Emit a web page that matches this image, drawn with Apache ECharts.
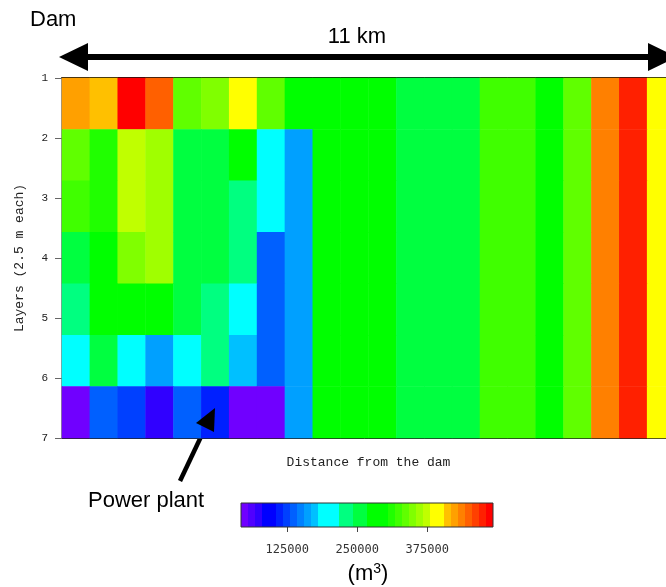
<!DOCTYPE html>
<html>
<head>
<meta charset="utf-8">
<script src="https://cdn.jsdelivr.net/npm/echarts@6/dist/echarts.min.js"></script>
<style>
  html, body { margin: 0; padding: 0; background: #fff; }
  #chart { width: 666px; height: 587px; }
</style>
</head>
<body>
<div id="chart"></div>
<script>
// Reservoir segments counted from the dam, and the 7 depth layers
const segments = ['1','2','3','4','5','6','7','8','9','10','11','12','13','14','15','16','17','18','19','20','21','22'];
const layers = ['1','2','3','4','5','6','7'];
const layerTicks = [1, 7];

// Water volume per cell (m³), one array per layer from the surface down
const layer1 = [421000, 409000, 488000, 446000, 334000, 351000, 385000, 337000, 290000, 284000, 287000, 289000, 247000, 250000, 252000, 321000, 326000, 281000, 338000, 433000, 470000, 389000];
const layer2 = [333000, 309000, 372000, 362000, 248000, 246000, 285000, 198000, 160000, 284000, 287000, 289000, 247000, 250000, 252000, 321000, 326000, 281000, 338000, 433000, 470000, 389000];
const layer3 = [322000, 312000, 375000, 359000, 251000, 247000, 223000, 201000, 162000, 284000, 287000, 289000, 247000, 250000, 252000, 321000, 326000, 281000, 338000, 433000, 470000, 389000];
const layer4 = [253000, 283000, 345000, 364000, 249000, 245000, 226000, 137000, 161000, 284000, 287000, 289000, 247000, 250000, 252000, 321000, 326000, 281000, 338000, 433000, 470000, 389000];
const layer5 = [221000, 288000, 282000, 286000, 250000, 228000, 196000, 134000, 163000, 284000, 287000, 289000, 247000, 250000, 252000, 321000, 326000, 281000, 338000, 433000, 470000, 389000];
const layer6 = [203000, 244000, 199000, 158000, 195000, 220000, 171000, 139000, 160000, 284000, 287000, 289000, 247000, 250000, 252000, 321000, 326000, 281000, 338000, 433000, 470000, 389000];
const layer7 = [47000, 136000, 121000, 73000, 133000, 108000, 52000, 50000, 164000, 284000, 287000, 289000, 247000, 250000, 252000, 321000, 326000, 281000, 338000, 433000, 470000, 389000];

// Colour scale: 36 classes of 12 500 m³
const classStart = 42500;
const classStep = 12500;
const classColors = ['#7000ff','#5000ff','#3000ff','#0000ff','#0000ff','#0020ff','#0040ff','#0060ff','#0080ff','#00a0ff','#00c0ff','#00ffff','#00ffff','#00ffff','#00ff80','#00ff80','#00ff40','#00ff40','#00ff00','#00ff00','#00ff00','#20ff00','#40ff00','#60ff00','#80ff00','#a0ff00','#c0ff00','#ffff00','#ffff00','#ffc000','#ffa000','#ff8000','#ff6000','#ff4000','#ff2000','#ff0000'];
const colorTicks = [125000, 250000, 375000];

const layerValues = [layer1, layer2, layer3, layer4, layer5, layer6, layer7];
const cells = [];
layerValues.forEach((row, r) => row.forEach((v, c) => cells.push([c, r, v])));

const pieces = classColors.map((color, i) => ({
  gte: classStart + i * classStep,
  lt: classStart + (i + 1) * classStep,
  color: color
}));
const classEnd = classStart + classColors.length * classStep;

const mono = 'Liberation Mono';
const sans = 'Liberation Sans';

const chart = echarts.init(document.getElementById('chart'), null, { renderer: 'canvas' });

chart.setOption({
  animation: false,
  backgroundColor: '#fff',
  grid: [
    { left: 62, top: 78, width: 613, height: 360, show: true, borderColor: '#222', borderWidth: 1, backgroundColor: 'transparent', containLabel: false, outerBoundsMode: 'none' },
    { left: 241, top: 503, width: 252, height: 24, show: true, borderColor: '#333', borderWidth: 1, backgroundColor: 'transparent', z: 6, containLabel: false, outerBoundsMode: 'none' }
  ],
  xAxis: [
    {
      gridIndex: 0, type: 'category', data: segments, position: 'bottom',
      axisLine: { show: true, lineStyle: { color: '#222', width: 1 } },
      axisTick: { show: false }, axisLabel: { show: false }, splitLine: { show: false },
      name: 'Distance from the dam', nameLocation: 'middle', nameGap: 18,
      nameTextStyle: { fontFamily: mono, fontSize: 13, color: '#222' }
    },
    {
      gridIndex: 0, type: 'category', data: segments, position: 'top',
      axisLine: { show: true, lineStyle: { color: '#111', width: 2 } },
      axisTick: { show: false }, axisLabel: { show: false }, splitLine: { show: false }
    },
    {
      gridIndex: 1, type: 'value', min: classStart, max: classEnd, position: 'bottom',
      axisLine: { show: false }, splitLine: { show: false },
      axisTick: { show: true, customValues: colorTicks, length: 5, lineStyle: { color: '#444' } },
      axisLabel: { show: true, customValues: colorTicks, margin: 17, fontFamily: 'DejaVu Sans Mono', fontSize: 12, color: '#333', formatter: v => String(v) }
    }
  ],
  yAxis: [
    { gridIndex: 0, type: 'category', data: layers, inverse: true, show: false, position: 'left' },
    {
      gridIndex: 0, type: 'value', position: 'left', min: layerTicks[0], max: layerTicks[1], interval: 1, inverse: true,
      axisLine: { show: true, lineStyle: { color: '#222', width: 1 } },
      axisTick: { show: true, length: 7, lineStyle: { color: '#666' } },
      axisLabel: { fontFamily: mono, fontSize: 11, color: '#222', margin: 14 },
      splitLine: { show: false },
      name: 'Layers (2.5 m each)', nameLocation: 'middle', nameGap: 36, nameRotate: 90,
      nameTextStyle: { fontFamily: mono, fontSize: 13, color: '#222' }
    },
    { gridIndex: 1, type: 'value', show: false }
  ],
  visualMap: {
    type: 'piecewise', seriesIndex: 0, orient: 'horizontal',
    left: 241, top: 503, padding: 0,
    itemWidth: 7, itemHeight: 24, itemGap: 0, itemSymbol: 'rect',
    showLabel: false, selectedMode: false, hoverLink: false,
    pieces: pieces
  },
  series: [{
    type: 'heatmap', xAxisIndex: 0, yAxisIndex: 0,
    data: cells,
    itemStyle: { borderWidth: 0 },
    emphasis: { disabled: true },
    progressive: 0
  }],
  graphic: [
    { type: 'text', style: { text: 'Dam', x: 30, y: 20, font: '22px "Liberation Sans"', fill: '#000', textVerticalAlign: 'middle' } },
    { type: 'text', style: { text: '11 km', x: 357, y: 37, font: '22px "Liberation Sans"', fill: '#000', textAlign: 'center', textVerticalAlign: 'middle' } },
    { type: 'line', shape: { x1: 84, y1: 57, x2: 652, y2: 57 }, style: { stroke: '#000', lineWidth: 6 } },
    { type: 'polygon', shape: { points: [[59, 57], [88, 43], [88, 71]] }, style: { fill: '#000' } },
    { type: 'polygon', shape: { points: [[677, 57], [648, 43], [648, 71]] }, style: { fill: '#000' } },
    { type: 'line', shape: { x1: 180, y1: 481, x2: 207, y2: 424 }, style: { stroke: '#000', lineWidth: 4.5 } },
    { type: 'polygon', shape: { points: [[215, 408], [196, 423], [214, 432]] }, style: { fill: '#000' }, z: 10 },
    { type: 'text', style: { text: 'Power plant', x: 88, y: 501, font: '22px "Liberation Sans"', fill: '#000', textVerticalAlign: 'middle' } },
    { type: 'text', style: {
        text: '(m{sup|3})', x: 368, y: 574, textAlign: 'center', textVerticalAlign: 'middle',
        font: '22px "Liberation Sans"', fill: '#000',
        rich: { sup: { fontSize: 14, fontFamily: sans, verticalAlign: 'top', padding: [0, 0, 10, 0] } }
      } }
  ]
});
</script>
</body>
</html>
